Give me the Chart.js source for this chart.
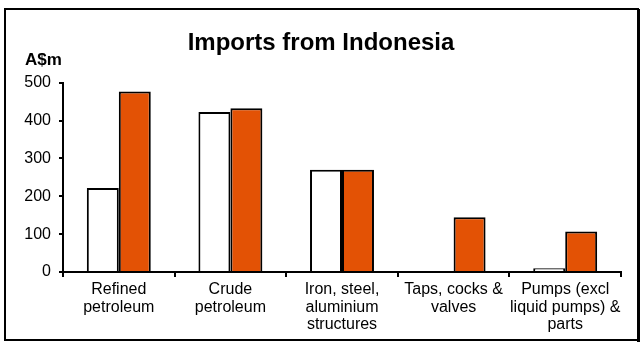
<!DOCTYPE html>
<html>
<head>
<meta charset="utf-8">
<script src="https://cdn.jsdelivr.net/npm/chart.js@4/dist/chart.umd.min.js"></script>
<style>
html,body{margin:0;padding:0;background:#fff;}
#wrap{width:642px;height:343px;position:relative;}
</style>
</head>
<body>
<div id="wrap"><canvas id="c" width="642" height="343"></canvas></div>
<script>
const categories = [["Refined","petroleum"],["Crude","petroleum"],["Iron, steel,","aluminium","structures"],["Taps, cocks &","valves"],["Pumps (excl","liquid pumps) &","parts"]];
const seriesWhite = [222, 423, 270, 2, 10];
const seriesOrange = [477, 433, 270, 145, 107];
const yTicks = [0, 100, 200, 300, 400, 500];
const titleText = "Imports from Indonesia";
const unitText = "A$m";

const FONT = "'Liberation Sans', Arial, sans-serif";

const framePlugin = {
  id: 'frame',
  afterDraw(chart) {
    const ctx = chart.ctx;
    ctx.save();
    ctx.strokeStyle = '#000';
    ctx.lineWidth = 2;
    ctx.strokeRect(5, 9, 633, 331);
    ctx.fillStyle = '#000';
    ctx.fillRect(637, 9, 3, 333);
    ctx.font = "bold 17px " + FONT;
    ctx.textBaseline = 'alphabetic';
    ctx.textAlign = 'left';
    ctx.fillText(unitText, 25, 65);
    ctx.restore();
  }
};

new Chart(document.getElementById('c'), {
  type: 'bar',
  data: {
    labels: categories,
    datasets: [
      { data: seriesWhite, backgroundColor: '#ffffff', borderColor: '#000', borderWidth: 2, borderSkipped: 'bottom' },
      { data: seriesOrange, backgroundColor: '#E35205', borderColor: '#000', borderWidth: 2, borderSkipped: 'bottom' }
    ]
  },
  options: {
    responsive: false,
    animation: false,
    devicePixelRatio: 1,
    layout: { padding: { left: 21, right: 21, top: 0, bottom: 0 } },
    datasets: { bar: { categoryPercentage: 0.573, barPercentage: 1.0 } },
    plugins: {
      legend: { display: false },
      tooltip: { enabled: false },
      title: {
        display: true,
        text: titleText,
        color: '#000',
        font: { family: FONT, size: 24, weight: 'bold', lineHeight: 1.2 },
        padding: { top: 29, bottom: 25 }
      }
    },
    scales: {
      x: {
        grid: { display: true, offset: true, drawOnChartArea: false, drawTicks: true, tickLength: 5, color: '#000', lineWidth: 2 },
        border: { display: true, color: '#000', width: 2 },
        ticks: { color: '#000', font: { family: FONT, size: 16, lineHeight: 1.1 }, maxRotation: 0, autoSkip: false, padding: 4 },
        afterFit(scale) { scale.height = 71; }
      },
      y: {
        min: 0, max: 500,
        afterBuildTicks(scale) { scale.ticks = yTicks.map(v => ({ value: v })); },
        grid: { display: true, drawOnChartArea: false, drawTicks: true, tickLength: 4, color: '#000', lineWidth: 2 },
        border: { display: true, color: '#000', width: 2 },
        ticks: { color: '#000', font: { family: FONT, size: 16 }, padding: 8 },
        afterFit(scale) { scale.width = 42; }
      }
    }
  },
  plugins: [framePlugin]
});
</script>
</body>
</html>
